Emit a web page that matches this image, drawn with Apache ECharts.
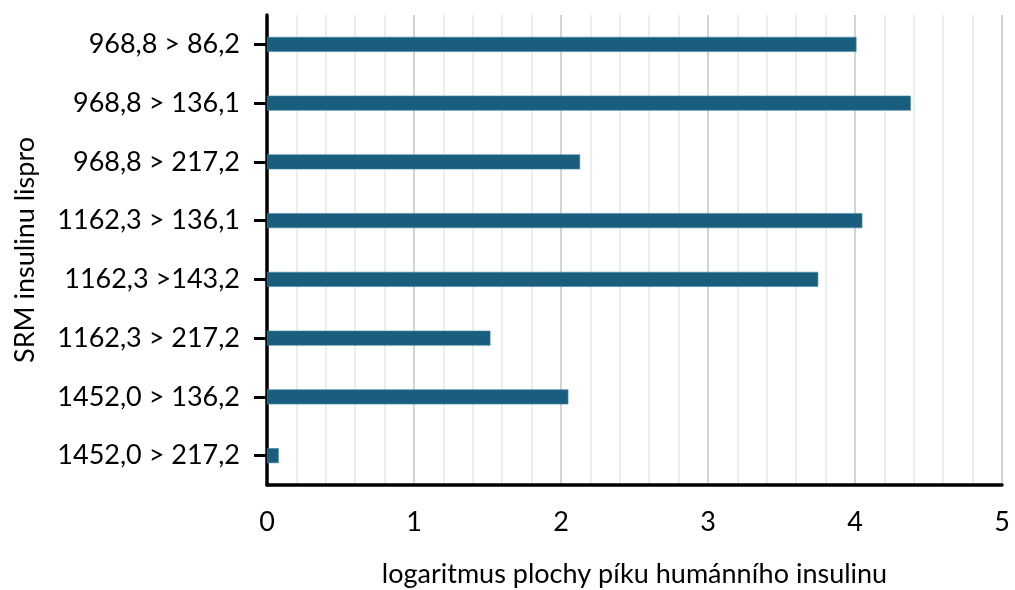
<!DOCTYPE html>
<html><head><meta charset="utf-8">
<script src="https://cdn.jsdelivr.net/npm/echarts@6/dist/echarts.min.js"></script>
<style>html,body{margin:0;padding:0;background:#fff}#c{width:1015px;height:590px}</style>
</head><body><div id="c"></div>
<script>
const categories = ["968,8 > 86,2","968,8 > 136,1","968,8 > 217,2","1162,3 > 136,1","1162,3 >143,2","1162,3 > 217,2","1452,0 > 136,2","1452,0 > 217,2"];
const values = [4.01, 4.38, 2.13, 4.05, 3.75, 1.52, 2.05, 0.08];
const xTitle = "logaritmus plochy píku humánního insulinu";
const yTitle = "SRM insulinu lispro";
const font = "Lato, 'Open Sans', sans-serif";
const chart = echarts.init(document.getElementById('c'), null, {renderer:'canvas'});
chart.setOption({
  animation:false,
  backgroundColor:'#fff',
  grid:{left:267, right:13, top:15, bottom:105, containLabel:false, outerBoundsMode:'none'},
  xAxis:{type:'value', min:0, max:5, interval:1,
    name:xTitle, nameLocation:'middle', nameGap:76,
    nameTextStyle:{fontFamily:font, fontSize:27, color:'#000'},
    axisLine:{show:true, onZero:false, lineStyle:{color:'#000', width:3.5}},
    axisTick:{show:false},
    axisLabel:{fontFamily:font, fontSize:27, color:'#000', margin:24},
    splitLine:{show:true, lineStyle:{color:'#d4d4d4', width:2}},
    minorTick:{show:false, splitNumber:5},
    minorSplitLine:{show:true, lineStyle:{color:'#ededed', width:2}}
  },
  yAxis:{type:'category', data:categories, inverse:true,
    name:yTitle, nameLocation:'middle', nameGap:228, nameRotate:90,
    nameTextStyle:{fontFamily:font, fontSize:27, color:'#000'},
    axisLine:{show:true, lineStyle:{color:'#000', width:3.5}},
    axisTick:{show:true, alignWithLabel:true, length:13, lineStyle:{color:'#000', width:3}},
    axisLabel:{fontFamily:font, fontSize:27, color:'#000', margin:27},
    splitLine:{show:false}
  },
  series:[{type:'bar', data:values, barWidth:15,
    itemStyle:{color:'#195f7d', borderColor:'#4a8aa3', borderWidth:0.6}}]
});
</script></body></html>
